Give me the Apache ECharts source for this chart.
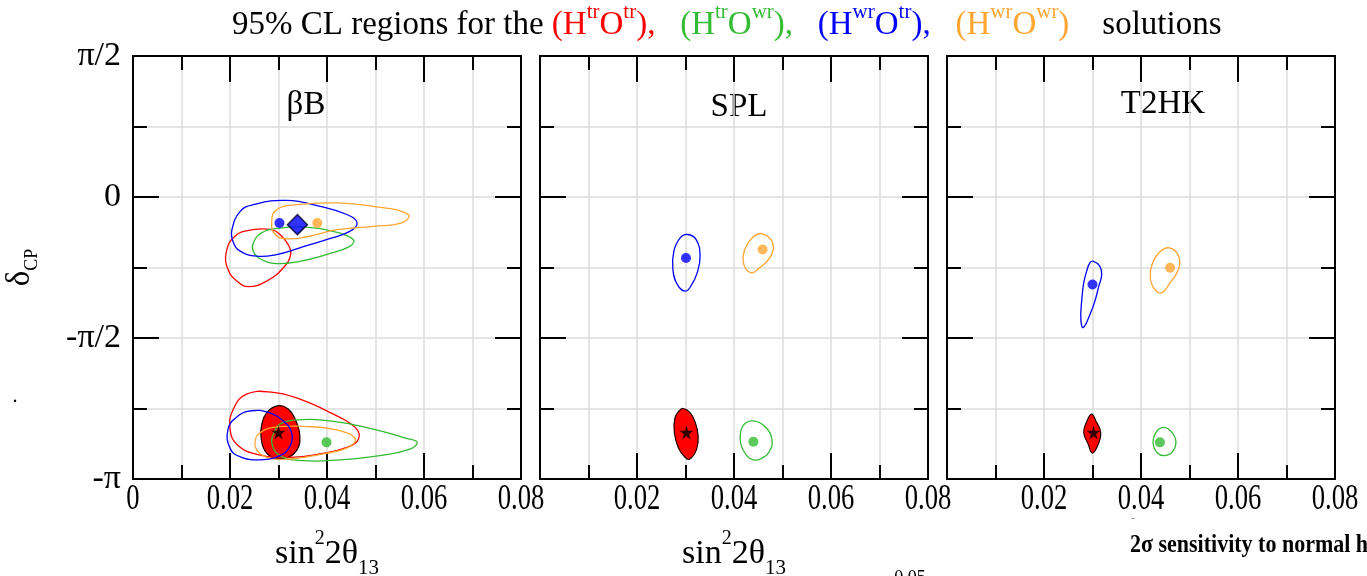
<!DOCTYPE html>
<html>
<head>
<meta charset="utf-8">
<script src="https://cdn.jsdelivr.net/npm/echarts@6/dist/echarts.min.js"></script>
<style>
  html, body { margin: 0; padding: 0; background: #fff; }
  #chart { width: 1367px; height: 576px; }
</style>
</head>
<body>
<div id="chart"></div>
<script>
// sin^2(2θ13) on x, δCP (in units of π) on y.

// Tick labels
const xTickValues = [0, 0.02, 0.04, 0.06, 0.08];
const xTickLabels = ['0', '0.02', '0.04', '0.06', '0.08'];
const yTickValues = [-1, -0.5, 0, 0.5];
const yTickLabels = ['-π', '-π/2', '0', 'π/2'];

const panelNames = ['βB', 'SPL', 'T2HK'];

// ---- βB : 95% CL contours [sin^2 2θ13, δCP/π] ----
const betaB_redFill   = [[0.0265,-0.811],[0.0276,-0.764],[0.0300,-0.740],[0.0320,-0.752],[0.0336,-0.794],[0.0344,-0.847],[0.0339,-0.894],[0.0320,-0.923],[0.0293,-0.927],[0.0272,-0.900],[0.0264,-0.852]];
const betaB_redLow    = [[0.0207,-0.752],[0.0234,-0.699],[0.0289,-0.693],[0.0344,-0.717],[0.0406,-0.764],[0.0458,-0.817],[0.0465,-0.858],[0.0441,-0.888],[0.0386,-0.911],[0.0324,-0.923],[0.0262,-0.915],[0.0217,-0.882],[0.0200,-0.823]];
const betaB_greenLow  = [[0.0303,-0.805],[0.0331,-0.791],[0.0406,-0.794],[0.0495,-0.823],[0.0564,-0.856],[0.0586,-0.870],[0.0571,-0.894],[0.0509,-0.917],[0.0427,-0.932],[0.0351,-0.935],[0.0303,-0.917],[0.0286,-0.870],[0.0293,-0.829]];
const betaB_orangeLow = [[0.0258,-0.841],[0.0289,-0.817],[0.0358,-0.814],[0.0420,-0.826],[0.0458,-0.856],[0.0444,-0.888],[0.0392,-0.911],[0.0324,-0.929],[0.0276,-0.923],[0.0254,-0.894],[0.0252,-0.864]];
const betaB_blueLow   = [[0.0196,-0.823],[0.0217,-0.776],[0.0245,-0.758],[0.0279,-0.764],[0.0310,-0.794],[0.0327,-0.835],[0.0324,-0.882],[0.0303,-0.917],[0.0262,-0.932],[0.0224,-0.923],[0.0201,-0.894]];
const betaB_blueUp    = [[0.0204,-0.116],[0.0221,-0.051],[0.0248,-0.027],[0.0317,-0.012],[0.0386,-0.033],[0.0441,-0.062],[0.0462,-0.092],[0.0447,-0.122],[0.0399,-0.151],[0.0344,-0.180],[0.0296,-0.204],[0.0255,-0.210],[0.0221,-0.192],[0.0206,-0.157]];
const betaB_orangeUp  = [[0.0286,-0.086],[0.0296,-0.045],[0.0338,-0.027],[0.0420,-0.021],[0.0502,-0.035],[0.0568,-0.062],[0.0554,-0.092],[0.0495,-0.104],[0.0420,-0.116],[0.0358,-0.141],[0.0317,-0.148],[0.0293,-0.133]];
const betaB_greenUp   = [[0.0248,-0.163],[0.0265,-0.127],[0.0303,-0.110],[0.0358,-0.107],[0.0413,-0.122],[0.0454,-0.151],[0.0447,-0.175],[0.0399,-0.204],[0.0344,-0.228],[0.0296,-0.236],[0.0262,-0.219],[0.0248,-0.192]];
const betaB_redUp     = [[0.0286,-0.116],[0.0248,-0.116],[0.0210,-0.139],[0.0192,-0.198],[0.0196,-0.257],[0.0214,-0.298],[0.0238,-0.318],[0.0276,-0.298],[0.0310,-0.251],[0.0325,-0.204],[0.0320,-0.169],[0.0303,-0.133]];
const betaB_trueValue = [0.0300, -0.835];
const betaB_greenBest = [0.0399, -0.870];
const betaB_blueBest  = [0.0302, -0.092];
const betaB_orangeBest = [0.0380, -0.092];
const betaB_blueMin   = [0.0339, -0.098];

// ---- SPL ----
const spl_redFill = [[0.0295,-0.750],[0.0309,-0.764],[0.0320,-0.799],[0.0326,-0.847],[0.0323,-0.894],[0.0309,-0.929],[0.0299,-0.923],[0.0285,-0.888],[0.0277,-0.835],[0.0278,-0.785],[0.0287,-0.758]];
const spl_green   = [[0.0440,-0.794],[0.0462,-0.811],[0.0478,-0.858],[0.0472,-0.905],[0.0454,-0.929],[0.0440,-0.932],[0.0426,-0.917],[0.0414,-0.876],[0.0414,-0.829],[0.0423,-0.802]];
const spl_blue    = [[0.0304,-0.133],[0.0322,-0.151],[0.0330,-0.210],[0.0324,-0.269],[0.0311,-0.316],[0.0299,-0.334],[0.0283,-0.310],[0.0274,-0.257],[0.0276,-0.192],[0.0289,-0.145]];
const spl_orange  = [[0.0457,-0.130],[0.0476,-0.151],[0.0481,-0.186],[0.0471,-0.222],[0.0450,-0.255],[0.0437,-0.269],[0.0423,-0.251],[0.0419,-0.208],[0.0429,-0.163],[0.0443,-0.137]];
const spl_trueValue  = [0.0302, -0.835];
const spl_greenBest  = [0.0440, -0.868];
const spl_blueBest   = [0.0301, -0.216];
const spl_orangeBest = [0.0459, -0.186];

// ---- T2HK ----
const t2hk_redFill = [[0.0298,-0.770],[0.0307,-0.794],[0.0317,-0.835],[0.0312,-0.876],[0.0300,-0.908],[0.0291,-0.876],[0.0282,-0.835],[0.0288,-0.797]];
const t2hk_green   = [[0.0446,-0.817],[0.0463,-0.833],[0.0472,-0.868],[0.0465,-0.903],[0.0449,-0.917],[0.0434,-0.908],[0.0425,-0.873],[0.0431,-0.835]];
const t2hk_blue    = [[0.0302,-0.228],[0.0315,-0.245],[0.0319,-0.275],[0.0313,-0.316],[0.0305,-0.369],[0.0295,-0.416],[0.0281,-0.463],[0.0276,-0.434],[0.0278,-0.363],[0.0282,-0.304],[0.0289,-0.257],[0.0295,-0.233]];
const t2hk_orange  = [[0.0456,-0.180],[0.0474,-0.198],[0.0480,-0.233],[0.0474,-0.269],[0.0460,-0.304],[0.0443,-0.339],[0.0427,-0.325],[0.0419,-0.281],[0.0424,-0.233],[0.0438,-0.196]];
const t2hk_trueValue  = [0.0302, -0.835];
const t2hk_greenBest  = [0.0439, -0.870];
const t2hk_blueBest   = [0.0300, -0.310];
const t2hk_orangeBest = [0.0460, -0.251];

const RED = '#ff0000', GREEN = '#33bb33', BLUE = '#0000ff', ORANGE = '#ffa530';
const FONT = 'Liberation Serif';
const STAR = 'path://M50,0 L61,35 L98,35 L68,57 L79,91 L50,70 L21,91 L32,57 L2,35 L39,35 Z';

const GRID_LEFT = [133, 540, 947];
const GRID_TOP = 56, GRID_W = 388, GRID_H = 423;
const X_LABEL_SQUEEZE = 0.74;   // narrow tick digits

const panels = [
  {
    contours: [
      [betaB_redFill, RED, true],
      [betaB_redLow, RED], [betaB_greenLow, GREEN], [betaB_orangeLow, ORANGE], [betaB_blueLow, BLUE],
      [betaB_redUp, RED], [betaB_greenUp, GREEN], [betaB_blueUp, BLUE], [betaB_orangeUp, ORANGE]
    ],
    dots: [[betaB_greenBest, GREEN], [betaB_blueBest, BLUE], [betaB_orangeBest, ORANGE]],
    diamonds: [[betaB_blueMin, BLUE]],
    stars: [betaB_trueValue]
  },
  {
    contours: [[spl_redFill, RED, true], [spl_green, GREEN], [spl_blue, BLUE], [spl_orange, ORANGE]],
    dots: [[spl_greenBest, GREEN], [spl_blueBest, BLUE], [spl_orangeBest, ORANGE]],
    diamonds: [],
    stars: [spl_trueValue]
  },
  {
    contours: [[t2hk_redFill, RED, true], [t2hk_green, GREEN], [t2hk_blue, BLUE], [t2hk_orange, ORANGE]],
    dots: [[t2hk_greenBest, GREEN], [t2hk_blueBest, BLUE], [t2hk_orangeBest, ORANGE]],
    diamonds: [],
    stars: [t2hk_trueValue]
  }
];

function lookup(values, labels, v) {
  const i = values.findIndex(t => Math.abs(t - v) < 1e-9);
  return i >= 0 ? labels[i] : '';
}

const frame = { color: '#000', width: 2 };
const gridLine = { color: '#dcdcdc', width: 1.5 };

const grids = [], xAxes = [], yAxes = [], series = [];

const nameRich = {
  n:   { fontFamily: FONT, fontSize: 34, color: '#000', lineHeight: 50, verticalAlign: 'middle' },
  sup: { fontFamily: FONT, fontSize: 20, color: '#000', lineHeight: 22, verticalAlign: 'top' },
  sub: { fontFamily: FONT, fontSize: 21, color: '#000', lineHeight: 20, verticalAlign: 'bottom' }
};

GRID_LEFT.forEach((left, p) => {
  grids.push({ left: left, top: GRID_TOP, width: GRID_W, height: GRID_H, containLabel: false, outerBoundsMode: 'none' });
  const xBase = { gridIndex: p, type: 'value', min: 0, max: 0.08, splitLine: { show: false } };
  const yBase = { gridIndex: p, type: 'value', min: -1, max: 0.5, splitLine: { show: false } };
  // bottom major ticks with labels
  xAxes.push(Object.assign({}, xBase, {
    position: 'bottom', interval: 0.02,
    axisLine: { onZero: false, lineStyle: frame },
    axisTick: { inside: true, length: 26, lineStyle: frame },
    axisLabel: {
      margin: 3, hideOverlap: false,
      formatter: v => {
        const s = (p > 0 && Math.abs(v) < 1e-9) ? '' : lookup(xTickValues, xTickLabels, v);
        return s ? '{c|' + s + '}' : '';
      },
      rich: { c: { fontFamily: FONT, fontSize: 36, lineHeight: 36, color: '#000' } }
    },
    name: p < 2 ? '{n|sin}{sup|2}{n|2θ}{sub|13}' : '',
    nameLocation: 'middle', nameGap: 50,
    nameTextStyle: { rich: nameRich }
  }));
  // bottom minor ticks + vertical grid lines
  xAxes.push(Object.assign({}, xBase, {
    position: 'bottom', interval: 0.01,
    axisLine: { show: false, onZero: false },
    axisTick: { inside: true, length: 14, lineStyle: frame },
    axisLabel: { show: false },
    splitLine: { show: true, lineStyle: gridLine }
  }));
  // top frame
  xAxes.push(Object.assign({}, xBase, {
    position: 'top', interval: 0.02,
    axisLine: { onZero: false, lineStyle: frame },
    axisTick: { inside: true, length: 26, lineStyle: frame },
    axisLabel: { show: false }
  }));
  xAxes.push(Object.assign({}, xBase, {
    position: 'top', interval: 0.01,
    axisLine: { show: false, onZero: false },
    axisTick: { inside: true, length: 14, lineStyle: frame },
    axisLabel: { show: false }
  }));
  // left major ticks with labels
  yAxes.push(Object.assign({}, yBase, {
    position: 'left', interval: 0.5,
    axisLine: { onZero: false, lineStyle: frame },
    axisTick: { inside: true, length: 26, lineStyle: frame },
    axisLabel: {
      show: p === 0, margin: 12, fontFamily: FONT, fontSize: 34, color: '#000',
      formatter: v => lookup(yTickValues, yTickLabels, v)
    },
    name: p === 0 ? '{d|δ}{s|CP}' : '',
    nameLocation: 'middle', nameGap: 92, nameRotate: 90,
    nameTextStyle: { rich: {
      d: { fontFamily: FONT, fontSize: 33, color: '#000', lineHeight: 42, verticalAlign: 'middle' },
      s: { fontFamily: FONT, fontSize: 18, color: '#000', lineHeight: 18, verticalAlign: 'bottom' }
    } }
  }));
  yAxes.push(Object.assign({}, yBase, {
    position: 'left', interval: 0.25,
    axisLine: { show: false, onZero: false },
    axisTick: { inside: true, length: 14, lineStyle: frame },
    axisLabel: { show: false },
    splitLine: { show: true, lineStyle: gridLine }
  }));
  yAxes.push(Object.assign({}, yBase, {
    position: 'right', interval: 0.5,
    axisLine: { onZero: false, lineStyle: frame },
    axisTick: { inside: true, length: 26, lineStyle: frame },
    axisLabel: { show: false }
  }));
  yAxes.push(Object.assign({}, yBase, {
    position: 'right', interval: 0.25,
    axisLine: { show: false, onZero: false },
    axisTick: { inside: true, length: 14, lineStyle: frame },
    axisLabel: { show: false }
  }));

  const ax = { xAxisIndex: p * 4, yAxisIndex: p * 4 };
  const panel = panels[p];

  // closed confidence-region contours
  panel.contours.forEach(([pts, color, filled]) => {
    series.push(Object.assign({
      type: 'custom',
      data: pts,
      encode: { x: 0, y: 1 },
      silent: true,
      z: filled ? 2 : 3,
      renderItem: (params, api) => {
        if (params.dataIndex !== 0) return null;
        return {
          type: 'polygon',
          shape: { points: pts.map(pt => api.coord(pt)), smooth: 0.45 },
          style: filled
            ? { fill: color, stroke: '#220000', lineWidth: 1.2 }
            : { fill: 'none', stroke: color, lineWidth: 1.3 }
        };
      }
    }, ax));
  });

  // best-fit points
  series.push(Object.assign({
    type: 'scatter', symbol: 'circle', symbolSize: 10, z: 5, silent: true,
    data: panel.dots.map(([v, c]) => ({ value: v, itemStyle: { color: c } }))
  }, ax));
  if (panel.diamonds.length) {
    series.push(Object.assign({
      type: 'scatter', symbol: 'diamond', symbolSize: 20, z: 5, silent: true,
      data: panel.diamonds.map(([v, c]) => ({ value: v, itemStyle: { color: c, borderColor: '#000033', borderWidth: 1.5 } }))
    }, ax));
  }
  series.push(Object.assign({
    type: 'scatter', symbol: STAR, symbolSize: 14, z: 6, silent: true,
    itemStyle: { color: '#000' },
    data: panel.stars
  }, ax));
});

function textEl(x, y, text, size, extra, props) {
  return Object.assign({
    type: 'text', x: x, y: y, silent: true,
    style: Object.assign({
      text: text, fontFamily: FONT, fontSize: size, fill: '#000',
      align: 'center', verticalAlign: 'middle', textAlign: 'center', textVerticalAlign: 'middle'
    }, extra || {})
  }, props || {});
}

// rich fragments of the title (graphic text uses fill for colour)
const sup = (c) => ({ fontFamily: FONT, fontSize: 21, fill: c, color: c, lineHeight: 28, verticalAlign: 'top' });
const base = (c) => ({ fontFamily: FONT, fontSize: 33, fill: c, color: c, lineHeight: 40, verticalAlign: 'bottom' });

const graphics = [
  // title with coloured solution labels
  {
    type: 'text', x: 232, y: 22, silent: true,
    style: {
      text: '{k|95% CL regions for the }{r|(H}{rs|tr}{r|O}{rs|tr}{r|),}{k|   }{g|(H}{gs|tr}{g|O}{gs|wr}{g|),}{k|   }' +
            '{b|(H}{bs|wr}{b|O}{bs|tr}{b|),}{k|   }{o|(H}{os|wr}{o|O}{os|wr}{o|)}{k|    solutions}',
      fill: '#000',
      align: 'left', verticalAlign: 'middle', textAlign: 'left', textVerticalAlign: 'middle',
      rich: {
        k: base('#000'),
        r: base(RED), rs: sup(RED),
        g: base(GREEN), gs: sup(GREEN),
        b: base(BLUE), bs: sup(BLUE),
        o: base(ORANGE), os: sup(ORANGE)
      }
    }
  },
  textEl(306, 105, panelNames[0], 33),
  textEl(739, 107, panelNames[1], 33),
  textEl(1163, 104, panelNames[2], 33),
  textEl(15, 397, '.', 20),
  textEl(1130, 546, '2σ sensitivity to normal h', 25,
         { fontWeight: 'bold', align: 'left', textAlign: 'left' },
         { scaleX: 0.88, originX: 0, originY: 0 }),
  textEl(910, 578, '0.05', 18),
  textEl(1133, 519, '-', 12, { fill: '#888' })
];

const chart = echarts.init(document.getElementById('chart'), null, { renderer: 'canvas' });
chart.setOption({
  animation: false,
  backgroundColor: '#fff',
  grid: grids,
  xAxis: xAxes,
  yAxis: yAxes,
  series: series,
  graphic: graphics
});

// narrow the x tick digits horizontally about their own centres
try {
  const zr = chart.getZr();
  const visit = (el) => {
    if (el.type === 'text' && el.style && typeof el.style.text === 'string' && el.style.text.indexOf('{c|') === 0) {
      const r = el.getBoundingRect();
      el.originX = r.x + r.width / 2;
      el.originY = r.y + r.height / 2;
      el.scaleX = X_LABEL_SQUEEZE;
      el.markRedraw();
    }
    if (el.isGroup && el.childrenRef) el.childrenRef().forEach(visit);
  };
  zr.storage.getRoots().forEach(visit);
  zr.refreshImmediately();
} catch (e) { /* keep default label widths */ }
</script>
</body>
</html>
